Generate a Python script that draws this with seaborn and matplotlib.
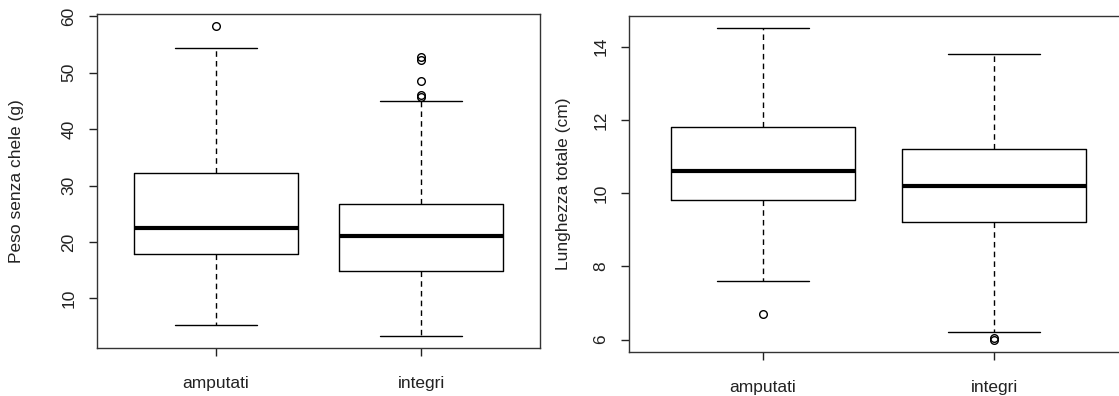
import matplotlib
matplotlib.use("Agg")
import matplotlib.pyplot as plt
import seaborn as sns

groups = ["amputati", "integri"]

# Peso senza chele (g): whisker low, Q1, median, Q3, whisker high, outliers
peso_lo = [5.3, 3.4]
peso_q1 = [17.8, 14.8]
peso_med = [22.5, 21.0]
peso_q3 = [32.3, 26.8]
peso_hi = [54.3, 44.9]
peso_out = [[58.2], [45.7, 46.0, 48.5, 52.3, 52.7]]

# Lunghezza totale (cm)
lung_lo = [7.6, 6.2]
lung_q1 = [9.8, 9.2]
lung_med = [10.6, 10.2]
lung_q3 = [11.8, 11.2]
lung_hi = [14.5, 13.8]
lung_out = [[6.7], [6.0, 6.05]]

sns.set_style("white")
plt.rcParams["font.family"] = ["Liberation Sans", "DejaVu Sans"]


def make_stats(lo, q1, med, q3, hi, out):
    return [dict(label=g, whislo=lo[i], q1=q1[i], med=med[i], q3=q3[i],
                 whishi=hi[i], fliers=out[i]) for i, g in enumerate(groups)]


def r_boxplot(ax, stats, ylabel, ticks, labelpad):
    ax.bxp(stats, positions=[1, 2], widths=0.8, patch_artist=False,
           boxprops=dict(color="black", lw=1.0),
           medianprops=dict(color="black", lw=3.0, solid_capstyle="butt"),
           whiskerprops=dict(color="black", lw=1.0, ls=(0, (4, 3))),
           capprops=dict(color="black", lw=1.0),
           capwidths=0.4,
           flierprops=dict(marker="o", markerfacecolor="none",
                           markeredgecolor="black", markersize=5.5, mew=1.0))
    ax.set_xlim(0.42, 2.58)
    ax.set_xticks([1, 2])
    ax.set_xticklabels(groups)
    ax.set_yticks(ticks)
    ax.set_yticklabels([str(t) for t in ticks], rotation=90, va="center")
    ax.set_ylabel(ylabel, fontsize=12.5, color="#222222", labelpad=labelpad)
    ax.tick_params(axis="both", labelsize=12.5, colors="#222222",
                   length=6, width=1, direction="out", left=True, bottom=True)
    ax.tick_params(axis="x", pad=14)
    ax.tick_params(axis="y", pad=9)
    for s in ax.spines.values():
        s.set_visible(True)
        s.set_color("#333333")
        s.set_linewidth(1.0)


fig = plt.figure(figsize=(11.19, 3.96), dpi=100)
W, H = 1119, 396
ax1 = fig.add_axes([97 / W, 1 - 348 / H, 443 / W, 334 / H])
ax2 = fig.add_axes([629 / W, 1 - 352 / H, 499 / W, 336 / H])

r_boxplot(ax1, make_stats(peso_lo, peso_q1, peso_med, peso_q3, peso_hi, peso_out),
          "Peso senza chele (g)", [10, 20, 30, 40, 50, 60], 27)
ax1.set_ylim(1.2, 60.4)

r_boxplot(ax2, make_stats(lung_lo, lung_q1, lung_med, lung_q3, lung_hi, lung_out),
          "Lunghezza totale (cm)", [6, 8, 10, 12, 14], 16)
ax2.set_ylim(5.66, 14.84)

fig.savefig("out.png", dpi=100)
